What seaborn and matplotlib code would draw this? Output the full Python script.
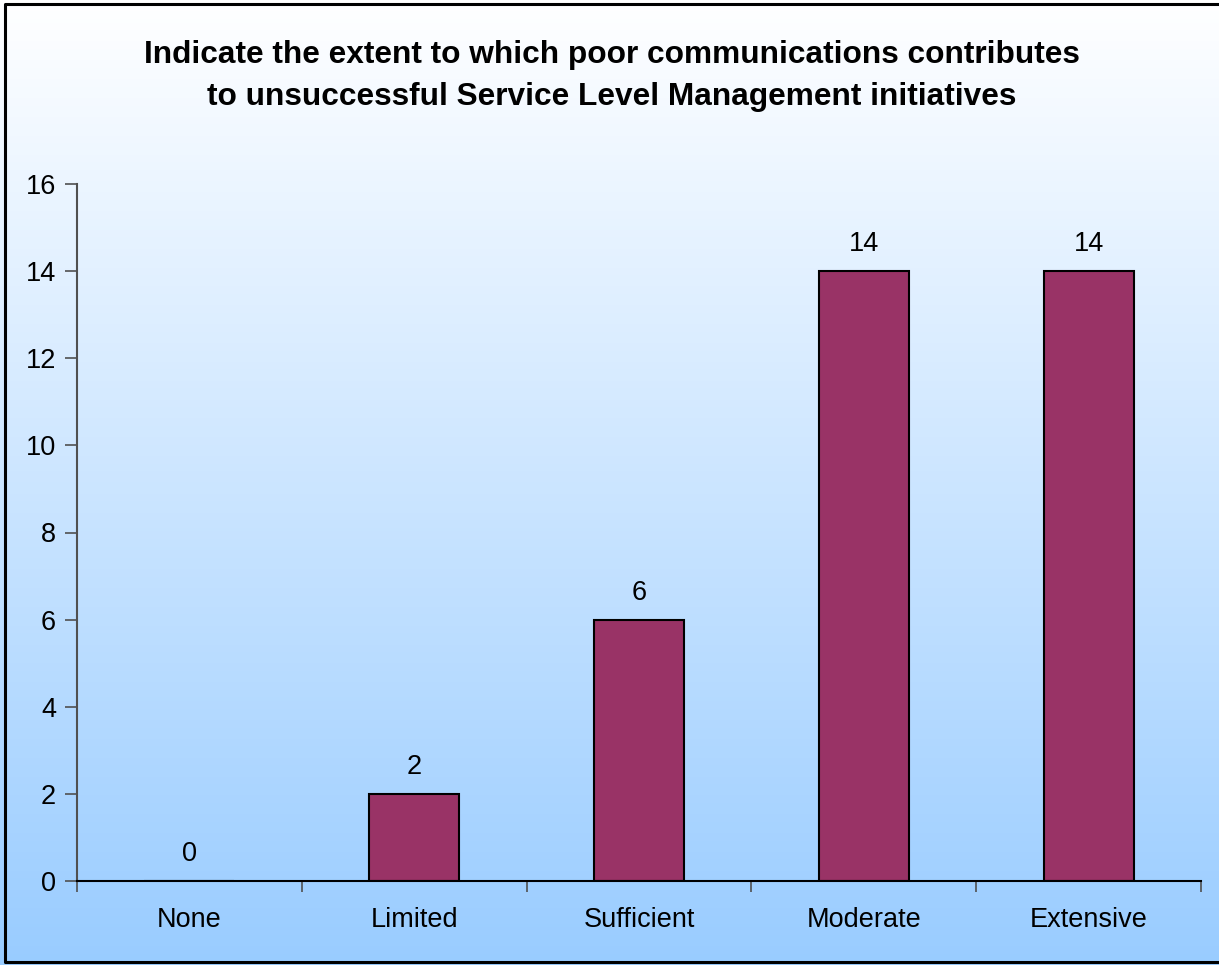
import matplotlib
matplotlib.use("Agg")
import matplotlib.pyplot as plt
import seaborn as sns
import numpy as np
import pandas as pd
from matplotlib.lines import Line2D

categories = ["None", "Limited", "Sufficient", "Moderate", "Extensive"]
values = [0, 2, 6, 14, 14]
yticks = [0, 2, 4, 6, 8, 10, 12, 14, 16]
title = "Indicate the extent to which poor communications contributes\nto unsuccessful Service Level Management initiatives"

sns.set_theme(style="white")
plt.rcParams['font.family'] = ['Liberation Sans', 'DejaVu Sans']
plt.rcParams['text.color'] = 'black'
plt.rcParams['xtick.color'] = 'black'
plt.rcParams['ytick.color'] = 'black'

W, H = 1219, 965
fig = plt.figure(figsize=(W / 100, H / 100), dpi=100)

# gradient background
bg = fig.add_axes([0, 0, 1, 1], zorder=0)
top = np.array([1.0, 1.0, 1.0])
bot = np.array([0x99, 0xCC, 0xFF]) / 255.0
t = np.linspace(0, 1, 256)[:, None]
grad = (top * (1 - t) + bot * t)[:, None, :]
bg.imshow(grad, aspect="auto", extent=[0, 1, 0, 1], origin="upper")
bg.set_xlim(0, 1)
bg.set_ylim(0, 1)
bg.axis("off")
# border (left, top, bottom)
bx = [1.2, 4.5 / W, 4.5 / W, 1.2]
by = [1 - 3.5 / H, 1 - 3.5 / H, 3.5 / H, 3.5 / H]
bg.add_line(Line2D(bx, by, color="black", lw=2.2, transform=bg.transAxes, clip_on=False))

ax = fig.add_axes([77 / W, (H - 881) / H, (1201 - 77) / W, (881 - 184) / H], zorder=1)
ax.patch.set_alpha(0)

df = pd.DataFrame({"cat": categories, "val": values})
sns.barplot(data=df, x="cat", y="val", ax=ax, color="#993366", width=0.4,
            edgecolor="black", linewidth=1.5, saturation=1)

fs = 19.5
ax.set_xlim(-0.5, len(categories) - 0.5)
ax.set_ylim(0, 16)
ax.set_yticks(yticks)
ax.set_yticklabels([str(v) for v in yticks], fontsize=fs, color="black")
ax.tick_params(axis="y", which="major", direction="out", length=9, width=1.2,
               color="#505050", left=True, pad=6)

# x ticks at boundaries, labels at centers
ax.set_xticks(np.arange(-0.5, len(categories), 1.0))
ax.set_xticklabels([])
ax.tick_params(axis="x", which="major", direction="out", length=8, width=1.2,
               color="#505050", bottom=True)
ax.set_xticks(np.arange(len(categories)), minor=True)
ax.set_xticklabels(categories, minor=True, fontsize=fs, color="black")
ax.tick_params(axis="x", which="minor", length=0, pad=19)

ax.set_xlabel("")
ax.set_ylabel("")
for s in ["top", "right"]:
    ax.spines[s].set_visible(False)
ax.spines["left"].set_color("#505050")
ax.spines["left"].set_linewidth(1.5)
ax.spines["bottom"].set_color("black")
ax.spines["bottom"].set_linewidth(1.5)

for i, v in enumerate(values):
    ax.annotate(str(v), (i, v), xytext=(0, 10), textcoords="offset points",
                ha="center", va="bottom", fontsize=fs, color="black")

fig.text(612 / W, 1 - 76 / H, title, ha="center", va="center", fontsize=22.8,
         fontweight="bold", linespacing=1.48, color="black")

fig.savefig("out.png", dpi=100)
